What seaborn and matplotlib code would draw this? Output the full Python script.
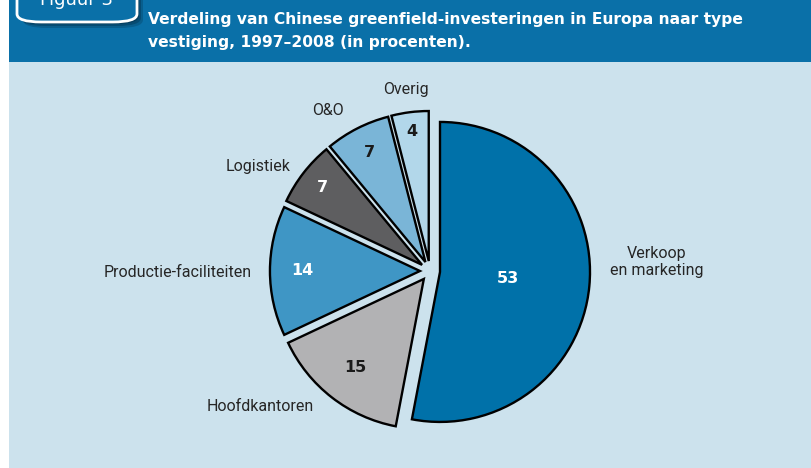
import matplotlib.pyplot as plt
import matplotlib
import numpy as np
import seaborn as sns
from matplotlib.patches import Rectangle, FancyBboxPatch

sns.set_theme(style='white')
matplotlib.rcParams['font.family'] = ['DejaVu Sans']

# data
categories = ['Verkoop\nen marketing', 'Hoofdkantoren', 'Productie-faciliteiten',
              'Logistiek', 'O&O', 'Overig']
values = [53, 15, 14, 7, 7, 4]
colors = ['#0071a9', '#b2b2b4', '#3f96c5', '#5e5e60', '#7ab5d7', '#b2d7ea']
value_colors = ['white', '#1a1a1a', 'white', 'white', '#1a1a1a', '#1a1a1a']

title = ('Verdeling van Chinese greenfield-investeringen in Europa naar type\n'
         'vestiging, 1997–2008 (in procenten).')

# styling per wedge (label placement relative to the pie centre)
explode = [0.067] * 6
label_dist = [1.20, 1.45, 1.19, 1.34, 1.27, 1.22]
label_turn = [8.3, -13.7, 0.6, 6.6, 5.4, 0.4]
label_ha = ['left', 'center', 'right', 'center', 'center', 'center']
value_dist = [0.52, 0.81, 0.85, 0.91, 0.89, 0.94]

BLUE_DARK = '#0a70a8'
PANEL = '#cce2ed'

fig = plt.figure(figsize=(8.11, 4.68), dpi=100)
W, H = 811, 468

# header band and panel
fig.patches.append(Rectangle((9 / W, 0), 1 - 9 / W, 1 - 62 / H, transform=fig.transFigure,
                             facecolor=PANEL, edgecolor='none', zorder=0))
fig.patches.append(Rectangle((9 / W, 1 - 62 / H), 1 - 9 / W, 62 / H, transform=fig.transFigure,
                             facecolor=BLUE_DARK, edgecolor='none', zorder=0))
# tab "Figuur 3" with shadow
for k, a in [(6, 0.25), (4, 0.35), (2, 0.45)]:
    fig.patches.append(FancyBboxPatch((17 / W + k / W, 1 - 22 / H - k / H), 120 / W, 40 / H,
                                      boxstyle='round,pad=0,rounding_size=0.03',
                                      mutation_aspect=H / W, transform=fig.transFigure,
                                      facecolor='#032a40', edgecolor='none', alpha=a, zorder=1))
fig.patches.append(FancyBboxPatch((17 / W, 1 - 22 / H), 120 / W, 40 / H,
                                  boxstyle='round,pad=0,rounding_size=0.03',
                                  mutation_aspect=H / W, transform=fig.transFigure,
                                  facecolor=BLUE_DARK, edgecolor='white', linewidth=2, zorder=2))
fig.text(77 / W, 1 - 5 / H, 'Figuur 3', color='white', fontsize=13, ha='center', va='baseline', zorder=3)
fig.text(148 / W, 1 - 31 / H, title, color='white', fontsize=11.2, fontweight='bold',
         ha='left', va='center', linespacing=1.6, zorder=3)

# pie axes
cx, cy, half = 430, 271, 172
ax = fig.add_axes([(cx - half) / W, (H - cy - half) / H, 2 * half / W, 2 * half / H])
ax.set_facecolor('none')
ax.set_zorder(5)

wedges, texts, autotexts = ax.pie(values, labels=categories, colors=colors, explode=explode,
                                  startangle=90, counterclock=False, radius=1,
                                  autopct=lambda p: f'{p:.0f}', pctdistance=0.8,
                                  labeldistance=1.2,
                                  wedgeprops=dict(edgecolor='black', linewidth=1.7),
                                  textprops=dict(fontsize=11.5, color='#262626'))
ax.set_xlim(-half / 150, half / 150)
ax.set_ylim(-half / 150, half / 150)
ax.set_aspect('equal')
ax.axis('off')

for w, t, a, ld, lt, ha, vd, vc in zip(wedges, texts, autotexts, label_dist, label_turn,
                                       label_ha, value_dist, value_colors):
    mid = (w.theta1 + w.theta2) / 2
    la = np.deg2rad(mid + lt)
    t.set_position((ld * np.cos(la), ld * np.sin(la)))
    t.set_ha(ha)
    t.set_va('center')
    t.set_multialignment('center')
    t.set_family(['Roboto', 'DejaVu Sans'])
    t.set_fontweight('normal')
    va_ = np.deg2rad(mid)
    a.set_position((vd * np.cos(va_), vd * np.sin(va_)))
    a.set_color(vc)
    a.set_fontweight('bold')
    a.set_fontsize(11.5)

fig.savefig('out.png', dpi=100, facecolor='white')
